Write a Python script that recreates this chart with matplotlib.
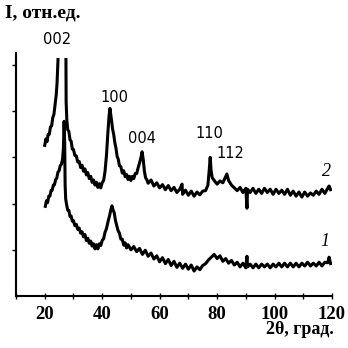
import matplotlib
matplotlib.use("Agg")
import matplotlib.pyplot as plt
from matplotlib.ticker import MultipleLocator, NullFormatter

# sample 2 (upper curve), 2theta in degrees / intensity in arbitrary units
tth2 = [20.0, 20.4, 20.8, 21.2, 21.6, 22.0, 22.4, 22.8, 23.2, 23.6, 24.0, 24.3, 24.6, 25.0,
        26.0, 27.0, 27.35, 27.45, 27.7, 28.0, 28.4, 28.8, 29.2, 29.6, 30.0, 30.5, 31.0, 31.5,
        32.0, 32.5, 33.0, 33.5, 34.0, 34.5, 35.0, 35.5, 36.0, 36.5, 37.0, 37.5, 38.0, 38.5,
        39.0, 39.5, 40.0, 40.5, 41.0, 41.5, 42.0, 42.4, 42.7, 43.0, 43.3, 43.6, 44.0, 44.4,
        44.8, 45.2, 45.6, 46.0, 46.5, 47.0, 47.5, 48.0, 48.5, 49.0, 49.5, 50.0, 50.5, 51.0,
        51.5, 52.0, 52.5, 53.0, 53.5, 53.9, 54.3, 54.7, 55.1, 55.5, 56.0, 57.0, 58.0, 59.0,
        60.0, 61.0, 62.0, 63.0, 64.0, 65.0, 66.0, 67.0, 67.8, 68.0, 69.0, 70.0, 71.0, 72.0,
        73.0, 74.0, 75.0, 76.0, 76.8, 77.3, 77.6, 77.9, 78.3, 79.0, 80.0, 81.0, 82.0, 82.8,
        83.4, 84.0, 85.0, 86.0, 87.0, 88.0, 89.0, 90.0, 90.4, 90.6, 91.5, 92.5, 93.5, 94.5,
        95.5, 96.5, 97.5, 98.5, 99.5, 100.5, 101.5, 102.5, 103.5, 104.5, 105.5, 106.5, 107.5,
        108.5, 109.5, 110.5, 111.5, 112.5, 113.5, 114.5, 115.5, 116.5, 117.5, 118.5, 119.0,
        119.5]
int2 = [3.26, 3.40, 3.34, 3.50, 3.50, 3.66, 3.68, 3.86, 3.93, 4.15, 4.35, 4.62, 5.10, 5.70,
        6.20, 6.20, 5.60, 4.20, 3.80, 3.60, 3.56, 3.38, 3.35, 3.18, 3.17, 3.04, 3.03, 2.90,
        2.91, 2.78, 2.83, 2.70, 2.75, 2.62, 2.67, 2.54, 2.59, 2.46, 2.51, 2.40, 2.46, 2.35,
        2.43, 2.34, 2.45, 2.50, 2.70, 3.05, 3.55, 3.90, 4.06, 3.92, 3.78, 3.62, 3.50, 3.32,
        3.20, 3.02, 2.96, 2.82, 2.80, 2.66, 2.71, 2.58, 2.63, 2.52, 2.59, 2.50, 2.59, 2.54,
        2.65, 2.65, 2.77, 2.88, 3.00, 3.12, 2.95, 2.70, 2.56, 2.52, 2.44, 2.51, 2.38, 2.45,
        2.34, 2.41, 2.30, 2.39, 2.28, 2.35, 2.24, 2.31, 2.42, 2.20, 2.29, 2.18, 2.27, 2.16,
        2.25, 2.19, 2.27, 2.28, 2.40, 2.75, 3.00, 2.72, 2.56, 2.50, 2.42, 2.49, 2.45, 2.56,
        2.64, 2.50, 2.40, 2.34, 2.28, 2.35, 2.24, 2.33, 1.90, 2.31, 2.24, 2.33, 2.22, 2.31,
        2.22, 2.33, 2.24, 2.31, 2.20, 2.31, 2.22, 2.29, 2.20, 2.31, 2.18, 2.27, 2.16, 2.25,
        2.14, 2.25, 2.16, 2.23, 2.18, 2.27, 2.20, 2.31, 2.22, 2.33, 2.38, 2.30]

# sample 1 (lower curve)
tth1 = [20.2, 20.6, 21.0, 21.4, 21.8, 22.2, 22.6, 23.0, 23.4, 23.8, 24.2, 24.6, 25.0, 25.4,
        25.8, 26.2, 26.5, 26.75, 26.95, 27.1, 27.3, 27.6, 28.0, 28.4, 28.8, 29.2, 29.6, 30.0,
        30.5, 31.0, 31.5, 32.0, 32.5, 33.0, 33.5, 34.0, 34.5, 35.0, 35.5, 36.0, 36.5, 37.0,
        37.5, 38.0, 38.5, 39.0, 39.5, 40.0, 40.5, 41.0, 41.5, 42.0, 42.5, 43.0, 43.4, 43.8,
        44.2, 44.6, 45.0, 45.5, 46.0, 46.5, 47.0, 47.5, 48.0, 48.5, 49.0, 50.0, 51.0, 52.0,
        53.0, 54.0, 55.0, 56.0, 57.0, 58.0, 59.0, 60.0, 61.0, 62.0, 63.0, 64.0, 65.0, 66.0,
        67.0, 68.0, 69.0, 70.0, 71.0, 72.0, 73.0, 74.0, 75.0, 76.0, 77.0, 78.0, 79.0, 80.0,
        81.0, 82.0, 83.0, 84.0, 85.0, 86.0, 87.0, 88.0, 89.0, 90.0, 90.4, 90.6, 91.5, 92.5,
        93.5, 94.5, 95.5, 96.5, 97.5, 98.5, 99.5, 100.5, 101.5, 102.5, 103.5, 104.5, 105.5,
        106.5, 107.5, 108.5, 109.5, 110.5, 111.5, 112.5, 113.5, 114.5, 115.5, 116.5, 117.5,
        118.5, 119.0, 119.5]
int1 = [1.94, 2.06, 2.02, 2.16, 2.16, 2.28, 2.29, 2.40, 2.41, 2.52, 2.55, 2.68, 2.71, 2.82,
        2.85, 2.96, 3.20, 3.78, 3.30, 2.40, 2.10, 1.98, 1.86, 1.85, 1.72, 1.73, 1.62, 1.63,
        1.52, 1.55, 1.44, 1.47, 1.36, 1.39, 1.28, 1.33, 1.20, 1.25, 1.14, 1.19, 1.08, 1.13,
        1.02, 1.11, 1.02, 1.13, 1.09, 1.20, 1.24, 1.38, 1.46, 1.60, 1.72, 1.86, 1.95, 1.86,
        1.80, 1.64, 1.54, 1.42, 1.36, 1.23, 1.23, 1.10, 1.15, 1.04, 1.11, 1.00, 1.07, 0.96,
        1.03, 0.90, 0.99, 0.86, 0.93, 0.80, 0.87, 0.74, 0.83, 0.70, 0.79, 0.66, 0.75, 0.62,
        0.71, 0.60, 0.69, 0.58, 0.67, 0.54, 0.63, 0.57, 0.66, 0.70, 0.78, 0.84, 0.90, 0.81,
        0.87, 0.75, 0.81, 0.71, 0.77, 0.67, 0.73, 0.63, 0.71, 0.61, 0.86, 0.63, 0.69, 0.61,
        0.69, 0.61, 0.69, 0.63, 0.69, 0.61, 0.69, 0.63, 0.71, 0.63, 0.71, 0.63, 0.71, 0.63,
        0.71, 0.63, 0.71, 0.65, 0.73, 0.65, 0.71, 0.65, 0.73, 0.65, 0.73, 0.72, 0.84, 0.70]

peak_labels = ["002", "100", "004", "110", "112"]
peak_pos_px = [(57.5, 40), (114, 97), (142, 139), (209, 133), (230, 154)]
xticks_major = [20, 40, 60, 80, 100, 120]

W = H = 348
fig = plt.figure(figsize=(W / 100, H / 100), dpi=100)
ax = fig.add_axes([16 / W, (H - 296) / H, (332 - 16) / W, (296 - 58) / H])

ax.plot(tth2, int2, color="black", lw=2.2, solid_joinstyle="round")
ax.plot(tth1, int1, color="black", lw=2.2, solid_joinstyle="round")

ax.set_xlim(10, 120)
ax.set_ylim(0, 5.15)
for s in ["top", "right"]:
    ax.spines[s].set_visible(False)
for s in ["left", "bottom"]:
    ax.spines[s].set_linewidth(1.5)
ax.spines["left"].set_bounds(0, 5.26)

ax.set_xticks(xticks_major)
ax.xaxis.set_minor_locator(MultipleLocator(10))
ax.set_xticklabels([str(v) for v in xticks_major], fontfamily="Liberation Serif",
                   fontweight="bold", fontsize=13.5)
ax.tick_params(axis="x", which="both", direction="inout", length=4, width=1.0, pad=5)
ax.set_yticks([1, 2, 3, 4, 5])
ax.yaxis.set_major_formatter(NullFormatter())
ax.tick_params(axis="y", direction="out", length=3, width=1.0)

for lab, (px, py) in zip(peak_labels, peak_pos_px):
    fig.text(px / W, 1 - py / H, lab, ha="center", va="center",
             fontfamily="DejaVu Sans", fontsize=10.5)

fig.text(326 / W, 1 - 172 / H, "2", ha="center", va="center",
         fontfamily="Liberation Serif", fontstyle="italic", fontsize=13)
fig.text(325 / W, 1 - 241 / H, "1", ha="center", va="center",
         fontfamily="Liberation Serif", fontstyle="italic", fontsize=13)

fig.text(5 / W, 1 - 13 / H, "I, отн.ед.", ha="left", va="center",
         fontfamily="Liberation Serif", fontweight="bold", fontsize=14)
fig.text(334 / W, 1 - 330 / H, "2θ, град.", ha="right", va="center",
         fontfamily="Liberation Serif", fontweight="bold", fontsize=13)

fig.savefig("out.png", dpi=100)
